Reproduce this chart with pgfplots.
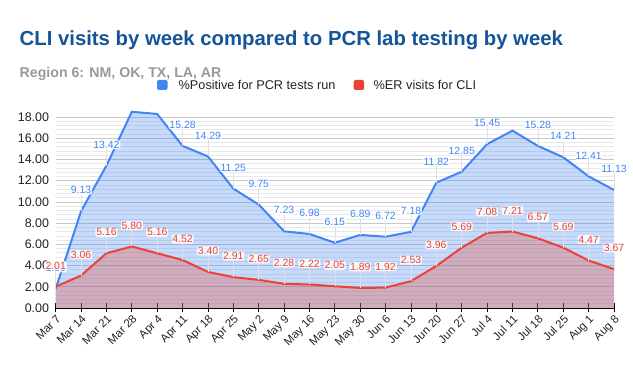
\documentclass[border=0pt]{standalone}
\usepackage{fontspec}
\setmainfont{Liberation Sans}
\usepackage{pgfplots}
\pgfplotsset{compat=1.18}
\usepackage{pgfplotstable}
\definecolor{cblue}{RGB}{66,133,244}
\definecolor{cred}{RGB}{234,67,53}
\definecolor{titleblue}{RGB}{20,84,152}
\definecolor{subgrey}{RGB}{153,153,153}
\definecolor{txt}{RGB}{34,34,34}

\pgfplotstableread{
x pos er
0 1.80 2.01
1 9.13 3.06
2 13.42 5.16
3 18.50 5.80
4 18.29 5.16
5 15.28 4.52
6 14.29 3.40
7 11.25 2.91
8 9.75 2.65
9 7.23 2.28
10 6.98 2.22
11 6.15 2.05
12 6.89 1.89
13 6.72 1.92
14 7.18 2.53
15 11.82 3.96
16 12.85 5.69
17 15.45 7.08
18 16.72 7.21
19 15.28 6.57
20 14.21 5.69
21 12.41 4.47
22 11.13 3.67
}\datatable

\pgfplotstableread{
x pos
0 1.80
1 9.13
2 13.42
5 15.28
6 14.29
7 11.25
8 9.75
9 7.23
10 6.98
11 6.15
12 6.89
13 6.72
14 7.18
15 11.82
16 12.85
17 15.45
19 15.28
20 14.21
21 12.41
22 11.13
}\poslab

\begin{document}
\begin{tikzpicture}
\useasboundingbox (0,0) rectangle (633bp,371bp);
% title
\node[anchor=base west, inner sep=0, text=titleblue, font=\fontsize{20.4}{20.4}\selectfont\bfseries] at (19.5bp,325.5bp) {CLI visits by week compared to PCR lab testing by week};
\node[anchor=base west, inner sep=0, text=subgrey, font=\fontsize{14.2}{14.2}\selectfont\bfseries] at (19.5bp,293.3bp) {Region 6: NM, OK, TX, LA, AR};
% legend
\fill[cblue, rounded corners=1.5bp] (157bp,281bp) rectangle (167.5bp,291bp);
\node[anchor=base west, inner sep=0, text=txt, font=\fontsize{12.75}{12.75}\selectfont] at (178.5bp,281.5bp) {\%Positive for PCR tests run};
\fill[cred, rounded corners=1.5bp] (353.5bp,281bp) rectangle (364bp,291bp);
\node[anchor=base west, inner sep=0, text=txt, font=\fontsize{12.75}{12.75}\selectfont] at (373.5bp,281.5bp) {\%ER visits for CLI};

\begin{axis}[
  at={(55.7bp,63bp)}, anchor=south west,
  scale only axis, width=558.3bp, height=197.3bp,
  xmin=0, xmax=22, ymin=0, ymax=18.6,
  clip=false,
  axis x line*=bottom, axis y line*=left,
  y axis line style={draw=none},
  x axis line style={draw=black, line width=0.9bp},
  xtick={0,...,22},
  xticklabels={Mar 7, Mar 14, Mar 21, Mar 28, Apr 4, Apr 11, Apr 18, Apr 25, May 2, May 9, May 16, May 23, May 30, Jun 6, Jun 13, Jun 20, Jun 27, Jul 4, Jul 11, Jul 18, Jul 25, Aug 1, Aug 8},
  xticklabel style={rotate=45, anchor=north east, inner sep=1bp, font=\fontsize{11.5}{11.5}\selectfont, text=txt},
  tick align=center, major tick length=9bp,
  xtick style={draw=black, line width=0.9bp},
  ytick={0,2,...,18},
  minor y tick num=4,
  ytick style={draw=none}, minor y tick style={draw=none},
  ymajorgrids, yminorgrids,
  major grid style={draw=black!22, line width=0.7bp},
  minor grid style={draw=black!9, line width=0.7bp},
  /pgf/number format/assume math mode=true,
  yticklabel style={/pgf/number format/.cd, fixed, fixed zerofill, precision=2, /tikz/.cd, font=\fontsize{12.5}{12.5}\selectfont, text=txt, inner sep=0pt, xshift=-2bp},
]
\addplot[draw=none, fill=cblue, fill opacity=0.3] table[x=x, y=pos]{\datatable} \closedcycle;
\addplot[draw=none, fill=cred, fill opacity=0.3] table[x=x, y=er]{\datatable} \closedcycle;
\addplot[cblue, line width=2bp, mark=none] table[x=x, y=pos]{\datatable};
\addplot[cred, line width=2bp, mark=none] table[x=x, y=er]{\datatable};
% blue labels
\addplot[draw=none, mark=none,
  error bars/.cd, y dir=plus, y fixed=1.55, error mark=none,
  error bar style={draw=black!12, line width=0.7bp, opacity=1},
  /pgfplots/.cd,
  nodes near coords={\pgfmathprintnumber[fixed,fixed zerofill,precision=2]{\pgfplotspointmeta}},
  every node near coord/.append style={anchor=center, yshift=21bp, inner sep=0.8bp, fill=white, fill opacity=0.85, text opacity=1, rounded corners=2bp, text=cblue, font=\fontsize{10.5}{10.5}\selectfont},
] table[x=x, y=pos]{\poslab};
% red labels
\addplot[draw=none, mark=none,
  error bars/.cd, y dir=plus, y fixed=1.55, error mark=none,
  error bar style={draw=black!12, line width=0.7bp, opacity=1},
  /pgfplots/.cd,
  nodes near coords={\pgfmathprintnumber[fixed,fixed zerofill,precision=2]{\pgfplotspointmeta}},
  every node near coord/.append style={anchor=center, yshift=21bp, inner sep=0.8bp, fill=white, fill opacity=0.85, text opacity=1, rounded corners=2bp, text=cred, font=\fontsize{10.5}{10.5}\selectfont},
] table[x=x, y=er]{\datatable};
\end{axis}
\end{tikzpicture}
\end{document}
